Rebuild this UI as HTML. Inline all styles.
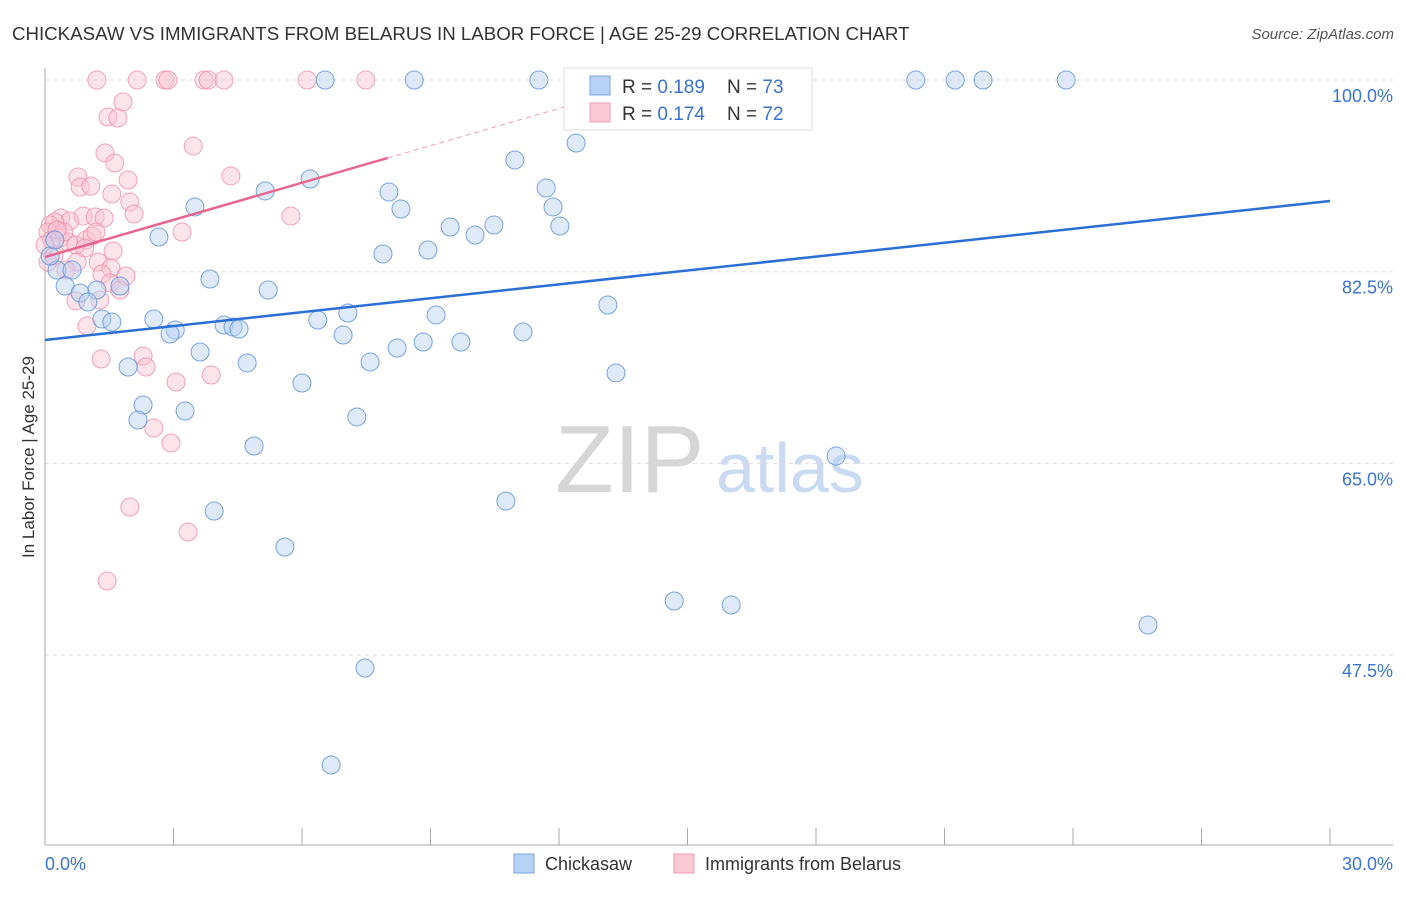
<!DOCTYPE html>
<html><head><meta charset="utf-8"><style>
body{margin:0;background:#fff;font-family:"Liberation Sans",sans-serif;}
svg text{font-family:"Liberation Sans",sans-serif;}
</style></head><body>
<svg id="chart" width="1406" height="892" viewBox="0 0 1406 892" xmlns="http://www.w3.org/2000/svg">
<text x="12" y="40" font-size="18.7" fill="#333">CHICKASAW VS IMMIGRANTS FROM BELARUS IN LABOR FORCE | AGE 25-29 CORRELATION CHART</text>
<text x="1394" y="39" font-size="15" fill="#555" font-style="italic" text-anchor="end">Source: ZipAtlas.com</text>
<g>
<text x="555" y="492" font-size="96" fill="#d6d6d6" font-family="Liberation Serif">ZIP</text>
<text x="716" y="492" font-size="70" fill="#c9daf2">atlas</text>
</g>
<g id="grid"></g>
<g id="axes"></g>
<g id="pink"></g>
<g id="blue"></g>
<g id="lines"></g>
<g>
<rect x="564" y="68" width="248" height="62" fill="#fff" stroke="#ddd"/>
<rect x="590" y="76" width="20" height="19" fill="#b8d2f5" stroke="#7aa5e0"/>
<rect x="590" y="103" width="20" height="19" fill="#fbc9d6" stroke="#ef9ab2"/>
<text x="622" y="93" font-size="19" fill="#333">R = <tspan fill="#3a74d0">0.189</tspan></text>
<text x="727" y="93" font-size="19" fill="#333">N = <tspan fill="#3a74d0">73</tspan></text>
<text x="622" y="120" font-size="19" fill="#333">R = <tspan fill="#3a74d0">0.174</tspan></text>
<text x="727" y="120" font-size="19" fill="#333">N = <tspan fill="#3a74d0">72</tspan></text>
</g>
<text transform="translate(34,457) rotate(-90)" font-size="17" fill="#333" text-anchor="middle">In Labor Force | Age 25-29</text>
<g>
<rect x="514" y="854" width="20" height="19" fill="#b8d2f5" stroke="#7aa5e0"/>
<text x="545" y="870" font-size="18" fill="#333">Chickasaw</text>
<rect x="674" y="854" width="20" height="19" fill="#fbc9d6" stroke="#ef9ab2"/>
<text x="705" y="870" font-size="18" fill="#333">Immigrants from Belarus</text>
</g>
</svg>
<script>
const yTicks=[100,82.5,65,47.5];
const yTickLabels=["100.0%","82.5%","65.0%","47.5%"];
const xTickLabels=["0.0%","30.0%"];
const blueX=[6.54,8.62,11.53,15.29,16.62,20.33,21.25,21.90,23.84,12.40,10.97,11.70,8.03,5.14,6.19,3.50,8.31,11.86,12.02,10.48,9.46,10.04,2.66,7.89,8.94,0.28,0.63,0.47,3.85,5.21,1.21,0.82,1.00,1.75,13.14,2.54,1.33,1.56,7.07,6.37,9.13,4.18,4.39,4.53,3.04,2.92,6.96,11.16,8.22,8.83,9.71,3.62,7.59,4.72,1.94,13.33,6.00,2.29,3.27,2.17,7.28,4.88,18.47,10.76,3.95,5.60,14.69,16.02,25.75,7.47,6.68,0.12,0.23];
const blueY=[100,100,100,100,100,100,100,100,100,94.25,92.70,90.14,89.78,89.87,90.96,88.41,88.22,88.41,86.67,86.76,86.58,85.85,85.67,84.12,84.48,82.65,82.65,81.19,81.83,80.83,80.83,80.56,79.73,81.19,79.46,78.18,78.18,77.91,78.73,78.09,78.55,77.63,77.45,77.27,77.18,76.81,76.72,77.00,75.53,76.08,76.08,75.17,74.26,74.17,73.80,73.25,72.34,70.33,69.78,68.96,69.24,66.59,65.67,61.56,60.65,57.37,52.44,52.07,50.25,46.32,37.47,83.93,85.39];
const pinkX=[1.21,2.15,2.80,2.87,3.71,3.81,4.18,6.12,7.49,1.82,1.47,1.70,3.46,1.40,1.63,4.34,0.77,0.82,1.07,1.94,1.56,1.98,2.08,5.74,3.20,0.37,0.58,0.89,1.17,1.38,0.23,0.12,0.07,0.16,0.35,0.54,0.72,0.96,1.10,1.19,0.44,0.28,0.00,1.59,0.93,0.75,1.24,1.54,1.33,1.89,1.52,1.75,0.72,0.98,1.31,2.29,2.36,3.06,3.88,2.54,2.94,1.98,3.34,1.45,0.07,0.21,0.49,1.28];
const pinkY=[100,100,100,100,100,100,100,100,100,97.99,96.62,96.53,93.97,93.34,92.42,91.24,91.14,90.23,90.32,90.87,89.59,88.86,87.77,87.58,86.12,87.40,87.13,87.58,87.49,87.40,87.04,86.76,86.12,85.39,85.58,85.21,84.94,85.39,85.76,86.12,86.12,86.31,84.94,84.39,84.66,83.39,83.39,82.84,82.29,82.11,81.47,80.83,79.83,77.54,74.53,74.80,73.80,72.43,73.07,68.23,66.86,61.02,58.74,54.26,83.39,83.93,82.65,79.92];
const blueTrend=[76.27,88.95];
const pinkTrend=[83.84,92.88];
const pinkTrendEndX=8.0;

const NS="http://www.w3.org/2000/svg";
const X0=45,X1=1330,Y100=80,PXPER=191.7/17.5;
const sx=v=>X0+(v/30)*(X1-X0);
const sy=v=>Y100+(100-v)*PXPER;
function mk(tag,attrs,parent){const e=document.createElementNS(NS,tag);for(const k in attrs)e.setAttribute(k,attrs[k]);parent.appendChild(e);return e;}
const grid=document.getElementById('grid'),axes=document.getElementById('axes');
yTicks.forEach((t,i)=>{
 const l=mk('line',{x1:X0,x2:1393,y1:sy(t),y2:sy(t),stroke:'#ddd','stroke-dasharray':'4,4'},grid);
 
 
 const tx=mk('text',{x:1393,y:sy(t)+22,'font-size':18,fill:'#3a74d0','text-anchor':'end'},axes);
 tx.textContent=yTickLabels[i];
 
 
});
mk('line',{x1:X0,x2:X0,y1:68,y2:845,stroke:'#aaa'},axes);
mk('line',{x1:X0,x2:1393,y1:845,y2:845,stroke:'#aaa'},axes);
for(let i=0;i<=10;i++){const t=mk('line',{x1:sx(i*3),x2:sx(i*3),y1:828,y2:845,stroke:'#aaa'},axes);
 
 }
const xl0=mk('text',{x:X0,y:870,'font-size':18,fill:'#3a74d0'},axes);xl0.textContent=xTickLabels[0];


const xl1=mk('text',{x:1393,y:870,'font-size':18,fill:'#3a74d0','text-anchor':'end'},axes);xl1.textContent=xTickLabels[1];


function pts(xs,ys,g,fill,stroke,name){xs.forEach((x,i)=>{const c=mk('circle',{cx:sx(x),cy:sy(ys[i]),r:9,fill:fill,'fill-opacity':0.45,stroke:stroke,'stroke-opacity':0.8,'stroke-width':1},g);
 
 });}
pts(pinkX,pinkY,document.getElementById('pink'),'#fbc0d0','#ec8fab','belarus-point');
pts(blueX,blueY,document.getElementById('blue'),'#b5d0f5','#5b8fdc','chickasaw-point');
const lines=document.getElementById('lines');
const bl=mk('line',{x1:sx(0),y1:sy(blueTrend[0]),x2:sx(30),y2:sy(blueTrend[1]),stroke:'#2a6fd6','stroke-width':2.5},lines);


const slope=(pinkTrend[1]-pinkTrend[0])/pinkTrendEndX;
const pl=mk('line',{x1:sx(0),y1:sy(pinkTrend[0]),x2:sx(pinkTrendEndX),y2:sy(pinkTrend[1]),stroke:'#e8658f','stroke-width':2.5},lines);


const xe=(100-pinkTrend[0])/slope;
const pd=mk('line',{x1:sx(pinkTrendEndX),y1:sy(pinkTrend[1]),x2:sx(xe),y2:sy(100),stroke:'#eea0b8','stroke-width':1,'stroke-dasharray':'5,4'},lines);


</script>
</body></html>
